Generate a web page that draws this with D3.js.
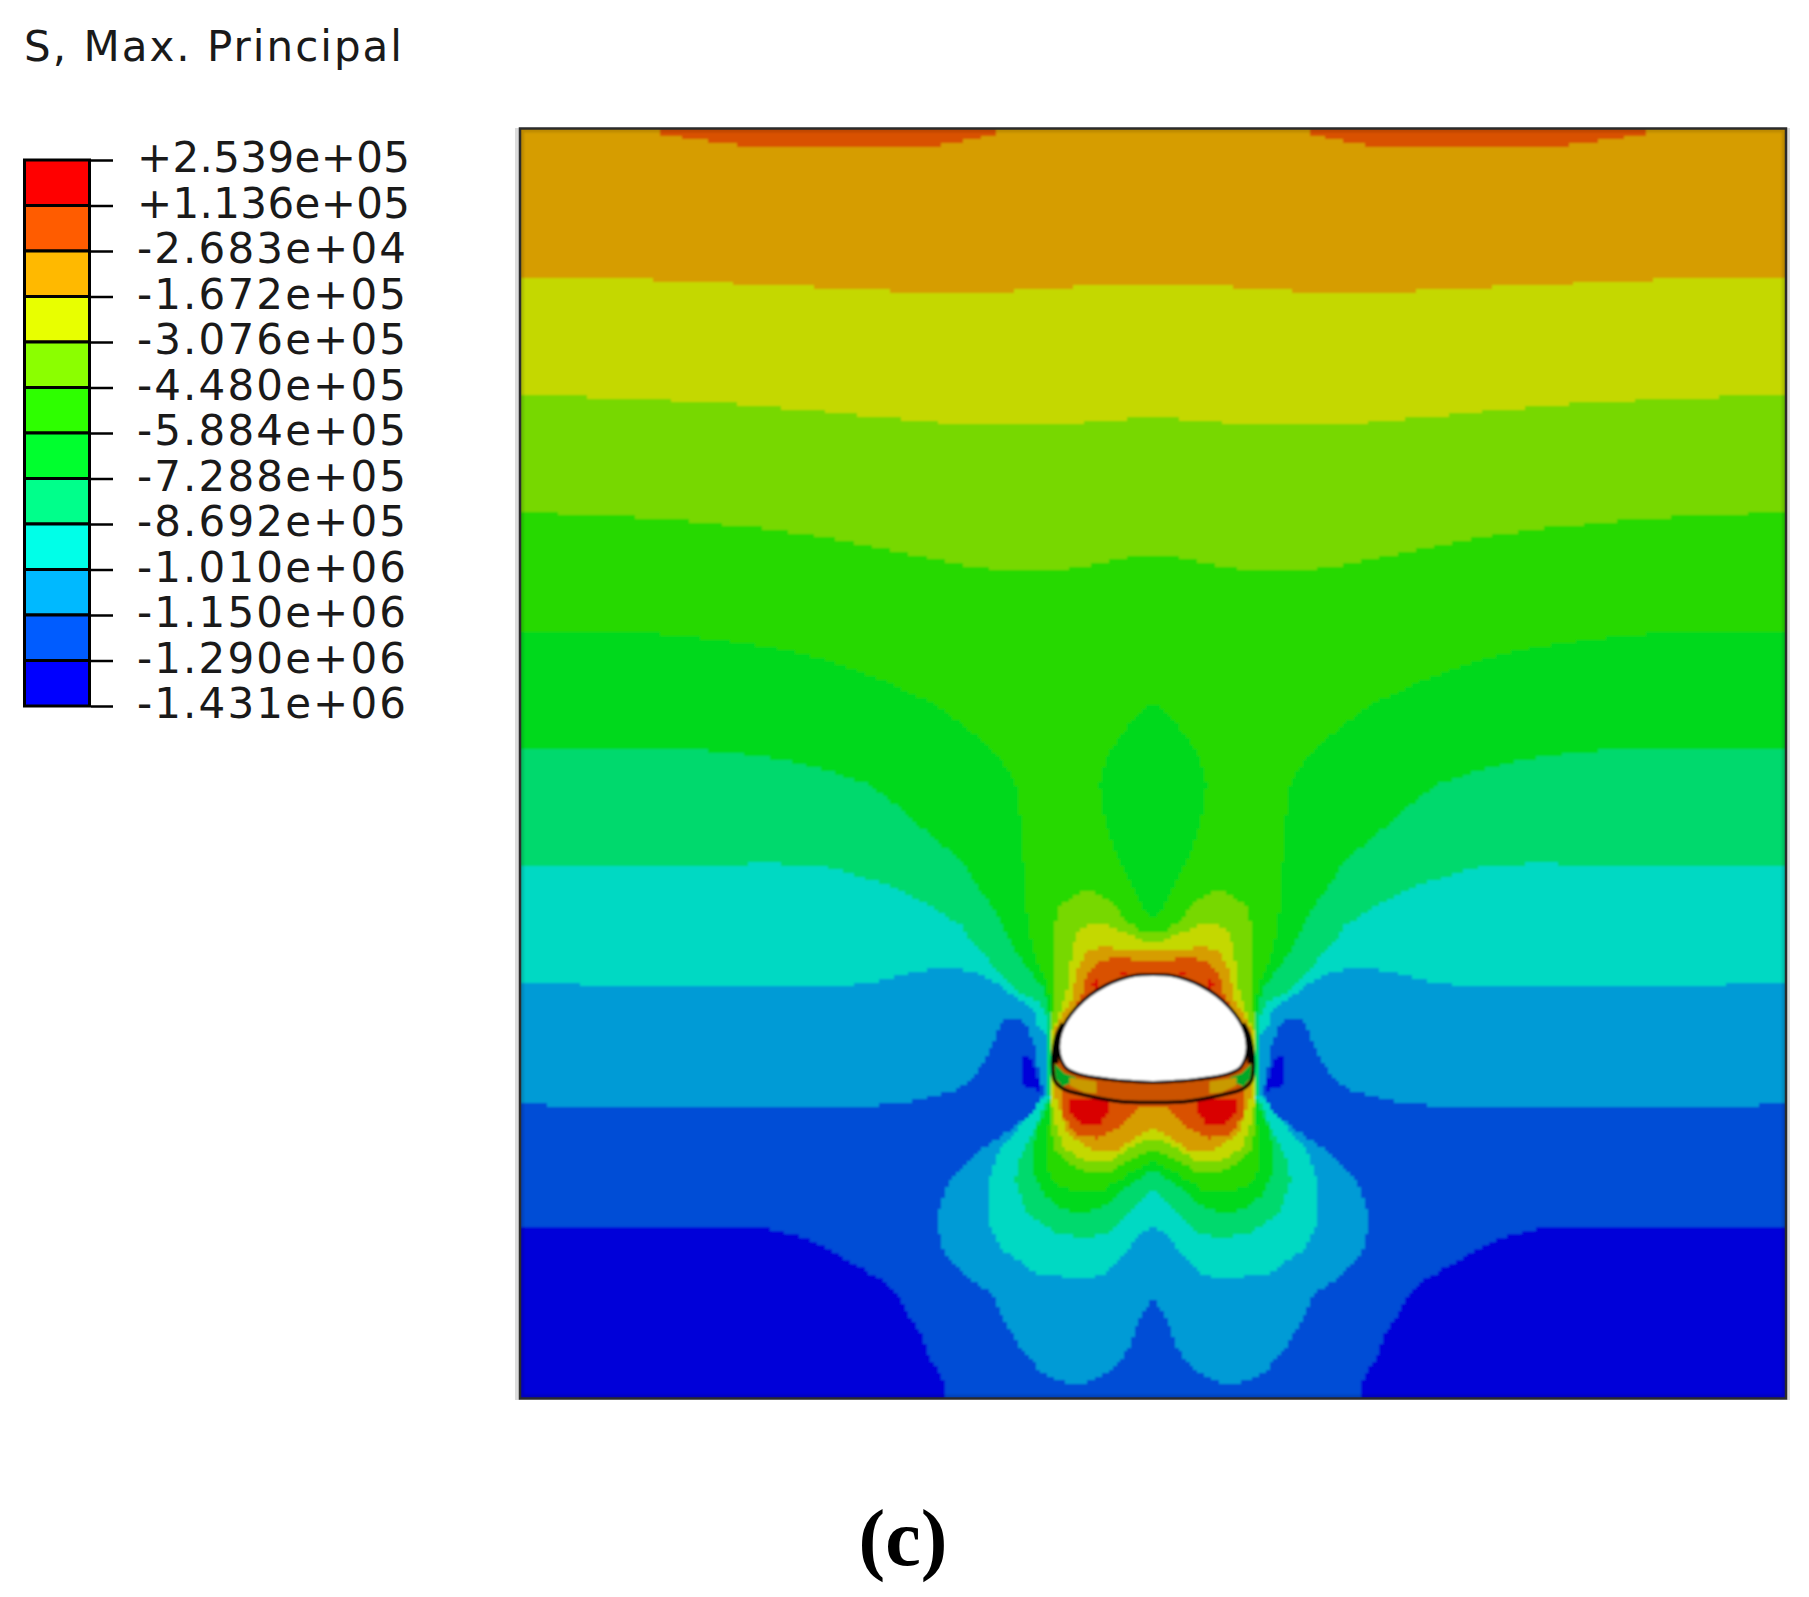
<!DOCTYPE html>
<html>
<head>
<meta charset="utf-8">
<title>S, Max. Principal</title>
<script src="https://cdnjs.cloudflare.com/ajax/libs/d3/7.8.5/d3.min.js"></script>
<style>
	html, body { margin: 0; padding: 0; background: #fff; }
	svg { display: block; }
	.legend text { font-family: "DejaVu Sans", sans-serif; font-size: 42px; fill: #1a1a1a; }
	.legend path.domain { display: none; }
	.legend line { stroke: #000; stroke-width: 2.5; }
</style>
</head>
<body>
<svg id="svg_main" width="1809" height="1597"></svg>
<script>
// legend, top to bottom
var legend_labels = ["+2.539e+05", "+1.136e+05", "-2.683e+04", "-1.672e+05", "-3.076e+05", "-4.480e+05", "-5.884e+05", "-7.288e+05", "-8.692e+05", "-1.010e+06", "-1.150e+06", "-1.290e+06", "-1.431e+06"];
var legend_colors = ["#ff0000", "#ff5c00", "#ffb900", "#e8ff00", "#8bff00", "#2eff00", "#00ff2e", "#00ff8b", "#00ffe8", "#00b9ff", "#005cff", "#0000ff"];

// contour colours as they appear on the model (lit, so darker than the legend)
var c_red = "#d90000", c_orange = "#d95100", c_amber = "#d69d00", c_yellow = "#c4d800",
	c_lime = "#77d800", c_green1 = "#27d900", c_green2 = "#00d91f", c_sea = "#00d96d",
	c_teal = "#00d9c3", c_sky = "#009bd6", c_royal = "#004dd6", c_deep = "#0000d9";

// model extent, contours are given for the left half only, the model is symmetric
var model_w = 1267, model_h = 1270, mid = 633.5;

// ---- far field contours, [distance from left edge, depth from top]
var top_patch = [[139,0],[139,6],[163,6],[163,9.5],[188,9.5],[188,13],[216,13],[216,16.5],[251,16.5],[251,20],[394,20],[394,16.5],[422,16.5],[422,13],[443,13],[443,9.5],[460,9.5],[460,6],[475,6],[475,0]];
var contour_yellow = [[0,150],[100,150],[170,153],[250,157],[320,160],[400,164],[470,164],[530,160],[590,157],[633.5,157]];
var contour_lime = [[0,265],[37,267],[135,271],[192,274],[240,277],[279,281],[317,284],[352,288],[391,291],[436,296],[545,296],[590,291],[633.5,289]];
var contour_green1 = [[0,384],[72,386],[135,390],[177,393],[213,397],[244,400],[289,406],[327,413],[363,420],[397,427],[432,434],[454,438],[482,442],[534,442],[562,438],[597,431],[614,427],[633.5,426]];
var contour_green2 = [[0,503],[106,503],[160,507],[194,511],[219,514],[244,518],[261,521],[279,525],[307,532],[319,536],[363,552],[414,575],[443,597],[466,615],[481,632],[495,652],[499,672],[502,705],[506,772],[510,805],[516,832],[527,852],[531,872],[533,900]];
var contour_sea = [[0,619],[129,619],[185,622],[219,625],[244,629],[265,632],[279,635],[293,639],[305,642],[317,645],[324,649],[336,652],[347,655],[359,664],[370,672],[386,685],[401,699],[420,715],[443,735],[455,755],[470,775],[481,795],[493,819],[506,839],[523,859],[529,880],[531,905]];
var contour_teal = [[0,738],[225,738],[228,734],[258,734],[262,738],[300,738],[317,741],[332,745],[342,749],[353,752],[363,755],[374,759],[386,765],[401,772],[414,780],[428,789],[443,797],[449,812],[466,829],[481,845],[497,862],[516,872],[525,882],[528,905]];
var contour_sky = [[0,855],[131,857],[303,859],[342,855],[363,852],[376,848],[388,845],[401,842],[435,839],[447,842],[458,845],[466,850],[477,855],[489,864],[500,872],[514,880],[518,899],[526,905]];
var contour_royal = [[0,974],[44,978],[338,978],[376,975],[397,972],[408,969],[422,965],[435,962],[443,957],[449,952],[456,944],[464,935],[470,922],[474,912],[478,902],[483,892],[499,891],[506,897],[514,915],[521,949],[524,966]];
var contour_deep = [[0,1097],[225,1097],[254,1101],[269,1105],[282,1109],[294,1114],[303,1119],[319,1125],[326,1132],[338,1137],[351,1145],[363,1152],[374,1162],[380,1169],[390,1189],[401,1205],[410,1229],[422,1249],[428,1270]];
var pocket_deep = [[503,927],[510,930],[520,952],[520,962],[505,961],[502,949]];
var leaf_green2 = [[633.5,574],[620,584],[600,608],[588,628],[580,655],[582,680],[590,710],[601,735],[613,760],[625,783],[633.5,790]];

// ---- lobes round the opening, from the centre line out and back to it
var lobe_sky = [[633.5,966],[524,966],[513,985],[490,1002],[460,1022],[443,1039],[430,1052],[420,1079],[418,1102],[425,1125],[447,1149],[473,1167],[483,1189],[500,1219],[523,1245],[545,1254],[568,1254],[593,1240],[610,1219],[620,1189],[633.5,1168]];
var lobe_teal = [[633.5,968],[526,968],[500,999],[480,1022],[470,1052],[468,1075],[471,1099],[480,1119],[520,1147],[568,1149],[583,1147],[622,1105],[633.5,1098]];
var lobe_sea = [[633.5,970],[528,970],[513,1005],[498,1032],[496,1055],[507,1085],[535,1105],[565,1110],[590,1104],[613,1082],[633.5,1059]];
var lobe_green2 = [[633.5,972],[530,972],[518,1000],[513,1020],[513,1045],[525,1068],[545,1082],[565,1084],[585,1078],[605,1060],[633.5,1042]];
var lobe_green1 = [[633.5,974],[532,974],[528,1010],[526,1040],[535,1055],[555,1064],[580,1063],[605,1048],[633.5,1032]];
var lobe_lime = [[633.5,804],[623,804],[607,792],[590,772],[573,764],[557,765],[540,779],[535,802],[535,870],[531,900],[530,975],[532,1000],[535,1020],[548,1035],[570,1045],[590,1043],[613,1030],[633.5,1020]];
var lobe_yellow = [[633.5,813],[623,812],[603,803],[587,797],[570,797],[558,803],[552,825],[548,860],[538,890],[532,905],[532,972],[537,1000],[545,1020],[565,1033],[590,1033],[613,1017],[633.5,1009]];
var lobe_amber = [[633.5,821],[610,820],[580,819],[565,825],[557,845],[552,872],[541,889],[535,905],[535,965],[540,982],[548,1005],[567,1020],[597,1022],[615,1010],[633.5,999]];
var lobe_orange = [[633.5,833],[600,829],[582,832],[567,847],[564,862],[555,879],[543,905],[543,970],[542,985],[555,1005],[577,1010],[600,999],[620,980],[633.5,977]];
var hot_lower = [[548,972],[590,972],[588,985],[580,997],[563,995],[550,985]];
var hot_upper_a = [[572,855],[577,849],[580,854],[575,864]];
var hot_upper_b = [[600,844],[608,845],[603,848]];

// ---- the opening and its invert
var liner_outer = [[543,895],[537,907],[534,922],[533,935],[535,952],[543,960],[567,967],[600,973],[633.5,974]];
var opening = [[633.5,846],[615,847],[600,851],[586,857],[570,867],[557,879],[547,892],[541,905],[539,919],[541,930],[547,940],[560,946],[590,951],[613,953],[633.5,954]];
var side_dark = [[543,895],[537,907],[534,922],[533,935],[539,935],[539,915]];
var invert_green = [[535,935],[545,945],[557,949],[550,955],[543,958],[536,950]];
var invert_amber = [[550,949],[577,953],[577,965],[565,964],[550,957]];

var x_model = d3.scaleLinear().domain([0, model_w]).range([520, 1786]);
var y_model = d3.scaleLinear().domain([0, model_h]).range([128.5, 1398.5]);

var svg_main = d3.select("#svg_main");
var defs = svg_main.append("defs");

defs.append("clipPath").attr("id", "clip_model").append("rect")
	.attr("x", x_model(0)).attr("y", y_model(0))
	.attr("width", x_model(model_w) - x_model(0))
	.attr("height", y_model(model_h) - y_model(0));

defs.append("filter").attr("id", "soft")
	.attr("x", "-2%").attr("y", "-2%").attr("width", "104%").attr("height", "104%")
	.append("feGaussianBlur").attr("stdDeviation", 0.8);

// the source is a low resolution screen grab, so contours come out as stairs
var cell = 3.65;
var bleed = 10;
var line_plain = d3.line();
var line_round = d3.line().curve(d3.curveCatmullRom);

function fn_snap(v, origin) {
	return origin + Math.round((v - origin) / cell) * cell;
}

// runs fills past the frame so the blur has no pale rim at the edges
function fn_bleed(p) {
	var px = p[0], py = p[1];
	if (px <= x_model(0) + 4) px = x_model(0) - bleed;
	if (px >= x_model(model_w) - 4) px = x_model(model_w) + bleed;
	if (py <= y_model(0) + 4) py = y_model(0) - bleed;
	if (py >= y_model(model_h) - 4) py = y_model(model_h) + bleed;
	return [px, py];
}

// walks the outline at 1px steps, snaps to the cell grid
function fn_stairs(pts, side) {
	var out = [];
	var x0 = x_model(mid), y0 = y_model(0);
	var n = pts.length;
	for (var i = 0; i < n; i++) {
		var a = pts[i], b = pts[(i + 1) % n];
		var ax = x_model(side * a[0] + (side < 0 ? model_w : 0)), ay = y_model(a[1]);
		var bx = x_model(side * b[0] + (side < 0 ? model_w : 0)), by = y_model(b[1]);
		var steps = Math.max(1, Math.ceil(Math.hypot(bx - ax, by - ay)));
		for (var s = 0; s < steps; s++) {
			var px = fn_snap(ax + (bx - ax) * s / steps, x0);
			var py = fn_snap(ay + (by - ay) * s / steps, y0);
			var last = out[out.length - 1];
			if (!last) { out.push([px, py]); continue; }
			if (last[0] === px && last[1] === py) continue;
			if (last[0] !== px && last[1] !== py) out.push([px, last[1]]);
			out.push([px, py]);
		}
	}
	return out.map(fn_bleed);
}

var g_model = svg_main.append("g").attr("clip-path", "url(#clip_model)")
	.append("g").attr("filter", "url(#soft)");

function fn_fill(pts, color) {
	[1, -1].forEach(function(side) {
		g_model.append("path")
			.attr("d", line_plain(fn_stairs(pts, side)) + "Z")
			.attr("fill", color)
			.attr("shape-rendering", "crispEdges");
	});
}

// a far field band runs down to the foot of the model
function fn_to_foot(contour) {
	return contour.concat([[mid, contour[contour.length - 1][1]], [mid, model_h], [0, model_h]]);
}

// a band that ends beside the opening closes along the lobes under it
function fn_round_opening(contour, y_turn) {
	var last = contour[contour.length - 1];
	return contour.concat([[last[0], y_turn], [mid, y_turn], [mid, model_h], [0, model_h]]);
}

g_model.append("rect")
	.attr("x", x_model(0) - bleed).attr("y", y_model(0) - bleed)
	.attr("width", x_model(model_w) - x_model(0) + 2 * bleed)
	.attr("height", y_model(model_h) - y_model(0) + 2 * bleed)
	.attr("fill", c_amber);

fn_fill(top_patch, c_orange);
fn_fill(fn_to_foot(contour_yellow), c_yellow);
fn_fill(fn_to_foot(contour_lime), c_lime);
fn_fill(fn_to_foot(contour_green1), c_green1);
fn_fill(fn_round_opening(contour_green2, 975), c_green2);
fn_fill(leaf_green2, c_green2);
fn_fill(fn_round_opening(contour_sea, 972), c_sea);
fn_fill(fn_round_opening(contour_teal, 970), c_teal);
fn_fill(fn_round_opening(contour_sky, 968), c_sky);
fn_fill(fn_round_opening(contour_royal, 966), c_royal);
fn_fill(contour_deep.concat([[0, model_h]]), c_deep);
fn_fill(pocket_deep, c_deep);

fn_fill(lobe_sky, c_sky);
fn_fill(lobe_teal, c_teal);
fn_fill(lobe_sea, c_sea);
fn_fill(lobe_green2, c_green2);
fn_fill(lobe_green1, c_green1);
fn_fill(lobe_lime, c_lime);
fn_fill(lobe_yellow, c_yellow);
fn_fill(lobe_amber, c_amber);
fn_fill(lobe_orange, c_orange);
fn_fill(hot_lower, c_red);
fn_fill(hot_upper_a, c_red);
fn_fill(hot_upper_b, c_red);

// invert of the liner, then the opening on top
[1, -1].forEach(function(side) {
	var xm = function(d) { return [x_model(side < 0 ? model_w - d[0] : d[0]), y_model(d[1])]; };

	g_model.append("path")
		.attr("d", line_plain(liner_outer.concat(opening.slice().reverse()).map(xm)) + "Z")
		.attr("fill", "#cb5200");
	g_model.append("path").attr("d", line_plain(invert_green.map(xm)) + "Z").attr("fill", "#00a826");
	g_model.append("path").attr("d", line_plain(invert_amber.map(xm)) + "Z").attr("fill", "#c89a00");
	g_model.append("path").attr("d", line_plain(side_dark.map(xm)) + "Z").attr("fill", "#000");
	g_model.append("path")
		.attr("d", line_round(liner_outer.map(xm)))
		.attr("fill", "none").attr("stroke", "#000").attr("stroke-width", 3.6);
	g_model.append("path")
		.attr("d", line_round(opening.map(xm)) + "L" + x_model(mid) + "," + y_model(900) + "Z")
		.attr("fill", "#fff");
	g_model.append("path")
		.attr("d", line_round(opening.map(xm)))
		.attr("fill", "none").attr("stroke", "#000").attr("stroke-width", 3.2);
});

// the grab darkens the model slightly along its edge
g_model.append("rect")
	.attr("x", x_model(0)).attr("y", y_model(0))
	.attr("width", x_model(model_w) - x_model(0))
	.attr("height", y_model(model_h) - y_model(0))
	.attr("fill", "none").attr("stroke", "#000").attr("stroke-opacity", 0.12).attr("stroke-width", 8);

// frame, with the pale halo the screen grab has on its sides
svg_main.append("rect").attr("x", 515).attr("y", 128).attr("width", 5).attr("height", 1272).attr("fill", "#dcdcdc");
svg_main.append("rect").attr("x", 1787).attr("y", 128).attr("width", 3).attr("height", 1272).attr("fill", "#dcdcdc");
svg_main.append("rect")
	.attr("x", x_model(0)).attr("y", y_model(0))
	.attr("width", x_model(model_w) - x_model(0))
	.attr("height", y_model(model_h) - y_model(0))
	.attr("fill", "none").attr("stroke", "#2b2b2b").attr("stroke-width", 2.5);

// ---- legend
var y_legend = d3.scalePoint().domain(legend_labels).range([160, 706]);
var band_legend = d3.scaleBand().domain(legend_colors).range([160, 706]);

var g_legend = svg_main.append("g").attr("class", "legend");

g_legend.selectAll("rect.swatch")
	.data(legend_colors)
	.enter().append("rect")
	.attr("class", "swatch")
	.attr("x", 24.5)
	.attr("y", function(d) { return band_legend(d); })
	.attr("width", 65)
	.attr("height", band_legend.bandwidth())
	.attr("fill", function(d) { return d; })
	.attr("stroke", "#000")
	.attr("stroke-width", 3);

g_legend.append("g")
	.attr("transform", "translate(91,0)")
	.call(d3.axisRight(y_legend).tickSize(22).tickPadding(24))
	.selectAll("text")
	.attr("dy", "11.5")
	.attr("textLength", function(d) { return d.charAt(0) === "+" ? 273 : 269; })
	.attr("lengthAdjust", "spacing");

// the axis sets its own font on the group
g_legend.selectAll("g").attr("font-size", null).attr("font-family", null);

svg_main.append("text")
	.attr("x", 24)
	.attr("y", 60.5)
	.attr("textLength", 378)
	.attr("font-family", "DejaVu Sans")
	.attr("font-size", 42)
	.attr("fill", "#1a1a1a")
	.text("S, Max. Principal");

svg_main.append("text")
	.attr("x", 903)
	.attr("y", 1565)
	.attr("text-anchor", "middle")
	.attr("font-family", "Liberation Serif")
	.attr("font-weight", "bold")
	.attr("font-size", 80)
	.attr("fill", "#000")
	.text("(c)");
</script>
</body>
</html>
